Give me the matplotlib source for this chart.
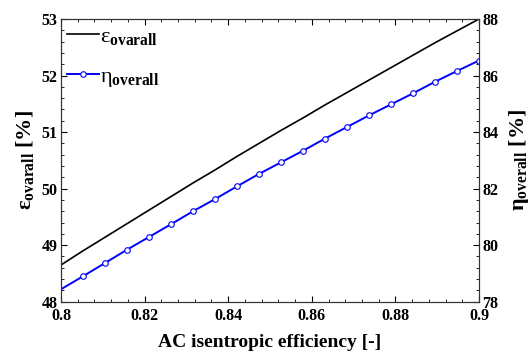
import matplotlib
matplotlib.use("Agg")
import matplotlib.pyplot as plt
from matplotlib.ticker import MultipleLocator

plt.rcParams["font.family"] = ["Liberation Serif", "DejaVu Serif"]
plt.rcParams["mathtext.fontset"] = "custom"
plt.rcParams["mathtext.rm"] = "Liberation Serif"
plt.rcParams["mathtext.bf"] = "Liberation Serif:bold"
plt.rcParams["mathtext.it"] = "Liberation Serif:italic"

# AC isentropic efficiency, 20 samples from 0.80 to 0.90
ac_eff = [0.8 + k * 0.1 / 19 for k in range(20)]
eps_overall = [48.65, 48.90, 49.14, 49.38, 49.62, 49.86, 50.10, 50.33, 50.57, 50.80,
               51.03, 51.25, 51.48, 51.70, 51.92, 52.14, 52.36, 52.58, 52.79, 53.00]
eta_overall = [78.44, 78.90, 79.37, 79.84, 80.29, 80.74, 81.20, 81.63, 82.08, 82.52,
               82.93, 83.34, 83.77, 84.18, 84.59, 84.98, 85.37, 85.78, 86.16, 86.53]

fig = plt.figure(figsize=(5.32, 3.53), dpi=100)
ax = fig.add_axes([0.1147, 0.1453, 0.7857, 0.8009])
ax2 = ax.twinx()

l1, = ax.plot(ac_eff, eps_overall, color="black", linewidth=1.2,
              label=r"ε$_{\mathbf{ovarall}}$")
l2, = ax2.plot(ac_eff, eta_overall, color="#0000ff", linewidth=1.4,
               marker="o", markersize=4, markerfacecolor="white",
               markeredgecolor="#0000ff", markeredgewidth=0.8,
               markevery=slice(1, None), label=r"η$_{\mathbf{overall}}$")

ax.set_xlim(0.8, 0.9)
ax.set_ylim(48, 53)
ax2.set_ylim(78, 88)

ax.xaxis.set_major_locator(MultipleLocator(0.02))
ax.xaxis.set_minor_locator(MultipleLocator(0.004))
ax.yaxis.set_major_locator(MultipleLocator(1))
ax.yaxis.set_minor_locator(MultipleLocator(0.2))
ax2.yaxis.set_major_locator(MultipleLocator(2))
ax2.yaxis.set_minor_locator(MultipleLocator(0.4))
ax.xaxis.set_major_formatter(plt.FuncFormatter(lambda v, p: f"{v:g}"))

for a in (ax, ax2):
    a.tick_params(which="major", direction="in", length=4, width=0.8,
                  labelsize=11.5, pad=2.5)
    a.tick_params(which="minor", direction="in", length=2.5, width=0.6)
    for lab in a.get_xticklabels() + a.get_yticklabels():
        lab.set_fontweight("bold")
ax.tick_params(axis="x", which="major", pad=4.5)
ax.tick_params(which="both", top=True, right=False)
ax2.tick_params(which="both", left=False, right=True)
for a in (ax, ax2):
    for s in a.spines.values():
        s.set_linewidth(0.8)
        s.set_color("#333333")

ax.set_xlabel("AC isentropic efficiency [-]", fontsize=14, fontweight="bold", labelpad=7)
ax.set_ylabel(r"ε$_{\mathbf{ovarall}}$ [%]", fontsize=16, fontweight="bold", labelpad=4)
ax2.set_ylabel(r"η$_{\mathbf{overall}}$ [%]", fontsize=16, fontweight="bold",
               rotation=90, labelpad=6)

ax2.legend(handles=[l1, l2], loc="upper left", bbox_to_anchor=(-0.012, 1.012),
           frameon=False, fontsize=16, handlelength=1.45, handletextpad=0.05,
           labelspacing=0.85, borderaxespad=0.2, borderpad=0.3, numpoints=1)

fig.savefig("out.png", dpi=100)
